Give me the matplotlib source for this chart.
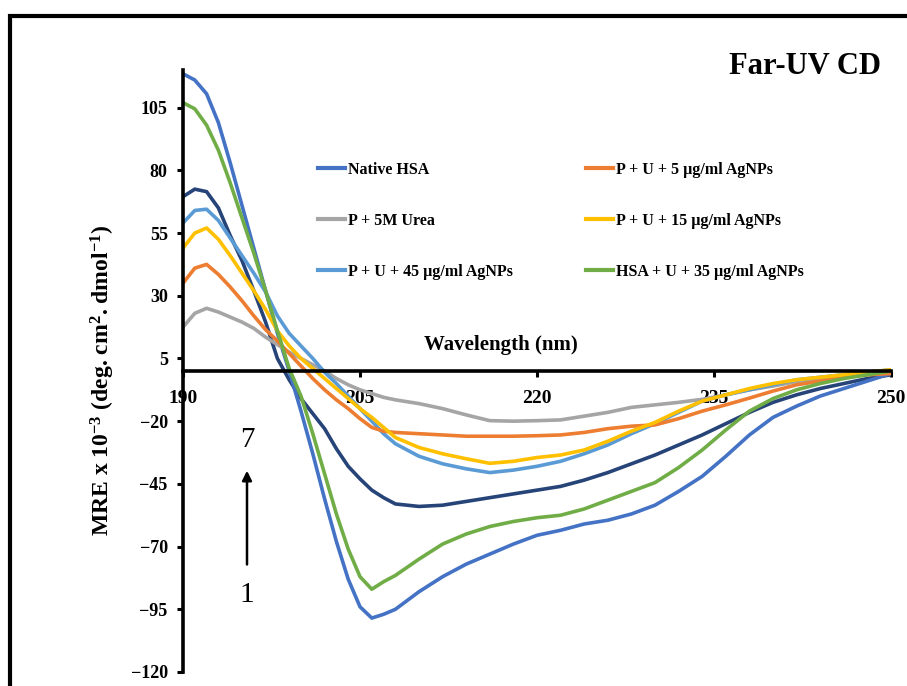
import matplotlib
matplotlib.use("Agg")
import matplotlib.pyplot as plt
from matplotlib.patches import Rectangle

plt.rcParams['font.family'] = ['Liberation Serif', 'DejaVu Serif']
plt.rcParams['mathtext.fontset'] = 'custom'
plt.rcParams['mathtext.rm'] = 'Liberation Serif:bold'
plt.rcParams['mathtext.it'] = 'Liberation Serif:bold:italic'
plt.rcParams['mathtext.bf'] = 'Liberation Serif:bold'

# wavelength grid (nm)
wavelength = [190, 191, 192, 193, 194, 195, 196, 197, 198, 199, 200, 201, 202, 203,
              204, 205, 206, 207, 208, 210, 212, 214, 216, 218, 220, 222, 224, 226,
              228, 230, 232, 234, 236, 238, 240, 242, 244, 246, 248, 250]

# MRE x 10^-3
native_hsa = [118.5, 116, 110.5, 99, 83, 66, 49, 32, 15, 0, -16, -33, -51, -68,
              -83, -94, -98.5, -97, -95, -88, -82, -77, -73, -69, -65.5, -63.5, -61, -59.5,
              -57, -53.5, -48, -42, -34, -25.5, -18.5, -14, -10, -7, -4, -1]
p_urea = [17.5, 23, 25, 23.5, 21.5, 19.5, 17, 13.5, 10.5, 7.5, 5, 2.5, 0, -3,
          -5.5, -7.5, -9, -10.5, -11.5, -13, -15, -17.5, -19.8, -20, -19.8, -19.5, -18, -16.5,
          -14.5, -13.5, -12.5, -11.3, -9.5, -7.5, -6, -4.2, -3, -2, -1, -0.5]
p_u_45 = [59, 64, 64.5, 60, 53, 46, 39, 31.5, 22, 15, 10, 5, -0.5, -5,
          -10, -15, -20, -25, -29, -34, -37, -39, -40.5, -39.5, -38, -36, -33, -29.5,
          -25, -21, -16.5, -12, -9.5, -7.5, -5.5, -3.5, -2.5, -1.5, -0.5, 0.5]
p_u_5 = [35, 41, 42.5, 38.5, 33.5, 28, 22, 16.5, 12, 7, 2, -3, -7.5, -11.5,
         -15, -19, -22.5, -24, -24.5, -25, -25.5, -26, -26, -26, -25.8, -25.5, -24.5, -23,
         -22, -21.5, -19, -16, -13.5, -10.8, -8, -5.5, -4, -2.5, -1.5, -1]
p_u_15 = [49, 55, 57, 52.5, 46, 39, 32, 24.5, 16, 10, 5, 1, -3, -7,
          -11, -15, -18.5, -22.5, -26.5, -30.5, -33, -35, -36.8, -36, -34.5, -33.5, -31.5, -28,
          -24, -20.5, -16, -12, -9.5, -7, -5, -3.5, -2.5, -1.5, -0.5, 0.5]
hsa_u_35 = [107, 104.5, 98, 88, 75, 61, 47, 32, 16, 1, -10, -25, -41, -57,
            -71, -82, -87, -84, -81.5, -75, -69, -65, -62, -60, -58.5, -57.5, -55, -51.5,
            -48, -44.5, -38.5, -31.5, -23.5, -16, -11, -7.5, -5, -3, -1.5, 0]
p_u_navy = [69.5, 72.5, 71.5, 65, 54, 44, 32, 19.5, 5, -3.5, -11, -17, -23, -31,
            -38, -43, -47.5, -50.5, -53, -54, -53.5, -52, -50.5, -49, -47.5, -46, -43.5, -40.5,
            -37, -33.5, -29.5, -25.5, -21, -16.5, -12.5, -9.5, -7, -5, -3, -1.5]

y_ticks = [-120, -95, -70, -45, -20, 5, 30, 55, 80, 105]
x_ticks = [190, 205, 220, 235, 250]

fig = plt.figure(figsize=(9.07, 6.86), dpi=100)
ax = fig.add_axes([183 / 907, 14 / 686, 708 / 907, 602 / 686])

series = [
    (native_hsa, '#4472C4', 'Native HSA'),
    (p_urea, '#A5A5A5', 'P + 5M Urea'),
    (p_u_45, '#5B9BD5', 'P + U + 45 µg/ml AgNPs'),
    (p_u_5, '#ED7D31', 'P + U + 5 µg/ml AgNPs'),
    (p_u_15, '#FFC000', 'P + U + 15 µg/ml AgNPs'),
    (hsa_u_35, '#70AD47', 'HSA + U + 35 µg/ml AgNPs'),
]
ax.plot(wavelength, p_u_navy, color='#264478', lw=2.6, label='_nolegend_')
for vals, col, lab in series:
    ax.plot(wavelength, vals, color=col, lw=2.6, label=lab)

ax.set_xlim(190, 250)
ax.set_ylim(-120, 120)
ax.spines['left'].set_position(('data', 190))
ax.spines['bottom'].set_position(('data', 0))
ax.spines['top'].set_visible(False)
ax.spines['right'].set_visible(False)
for s in ['left', 'bottom']:
    ax.spines[s].set_linewidth(2.6)

ax.set_yticks(y_ticks)
ax.set_xticks(x_ticks)
ax.tick_params(axis='y', direction='out', length=4, width=2.2, pad=7,
               labelsize=13)
ax.tick_params(axis='x', direction='out', length=4, width=2.2, pad=10,
               labelsize=14)
for lbl in ax.get_xticklabels() + ax.get_yticklabels():
    lbl.set_fontweight('bold')

ax.set_ylabel('MRE x 10$^{-3}$ (deg. cm$^{2}$. dmol$^{-1}$)', fontsize=17,
              fontweight='bold')
ax.yaxis.set_label_coords(-0.093, 0.485)
ax.text(0.449, 0.543, 'Wavelength (nm)', transform=ax.transAxes,
        ha='center', va='center', fontsize=15, fontweight='bold')

fig.text(805 / 907, 1 - 66 / 686, 'Far-UV CD', ha='center', va='center',
         fontsize=22, fontweight='bold')

leg = ax.legend(ncol=2, frameon=False, loc='upper left',
                bbox_to_anchor=(0.191, 0.848), borderaxespad=0, borderpad=0,
                handlelength=1.7, handletextpad=0.15, labelspacing=2.2,
                columnspacing=4.6, prop={'size': 11.5, 'weight': 'bold'})
for h in leg.get_lines():
    h.set_linewidth(3)

# 1 -> 7 arrow
ax.annotate('', xy=(0.0904, 0.339), xytext=(0.0904, 0.174),
            xycoords='axes fraction',
            arrowprops=dict(arrowstyle='-|>', color='black', lw=1.8,
                            mutation_scale=14))
ax.text(0.0904, 0.385, '7', transform=ax.transAxes, ha='center',
        va='center', fontsize=21)
ax.text(0.0904, 0.128, '1', transform=ax.transAxes, ha='center',
        va='center', fontsize=21)

# outer frame
fig.patches.append(Rectangle((10 / 907, -0.05), 1.1, 1.05 - 16 / 686,
                             transform=fig.transFigure, fill=False,
                             edgecolor='black', lw=3, clip_on=False))

fig.savefig('out.png', dpi=100)
